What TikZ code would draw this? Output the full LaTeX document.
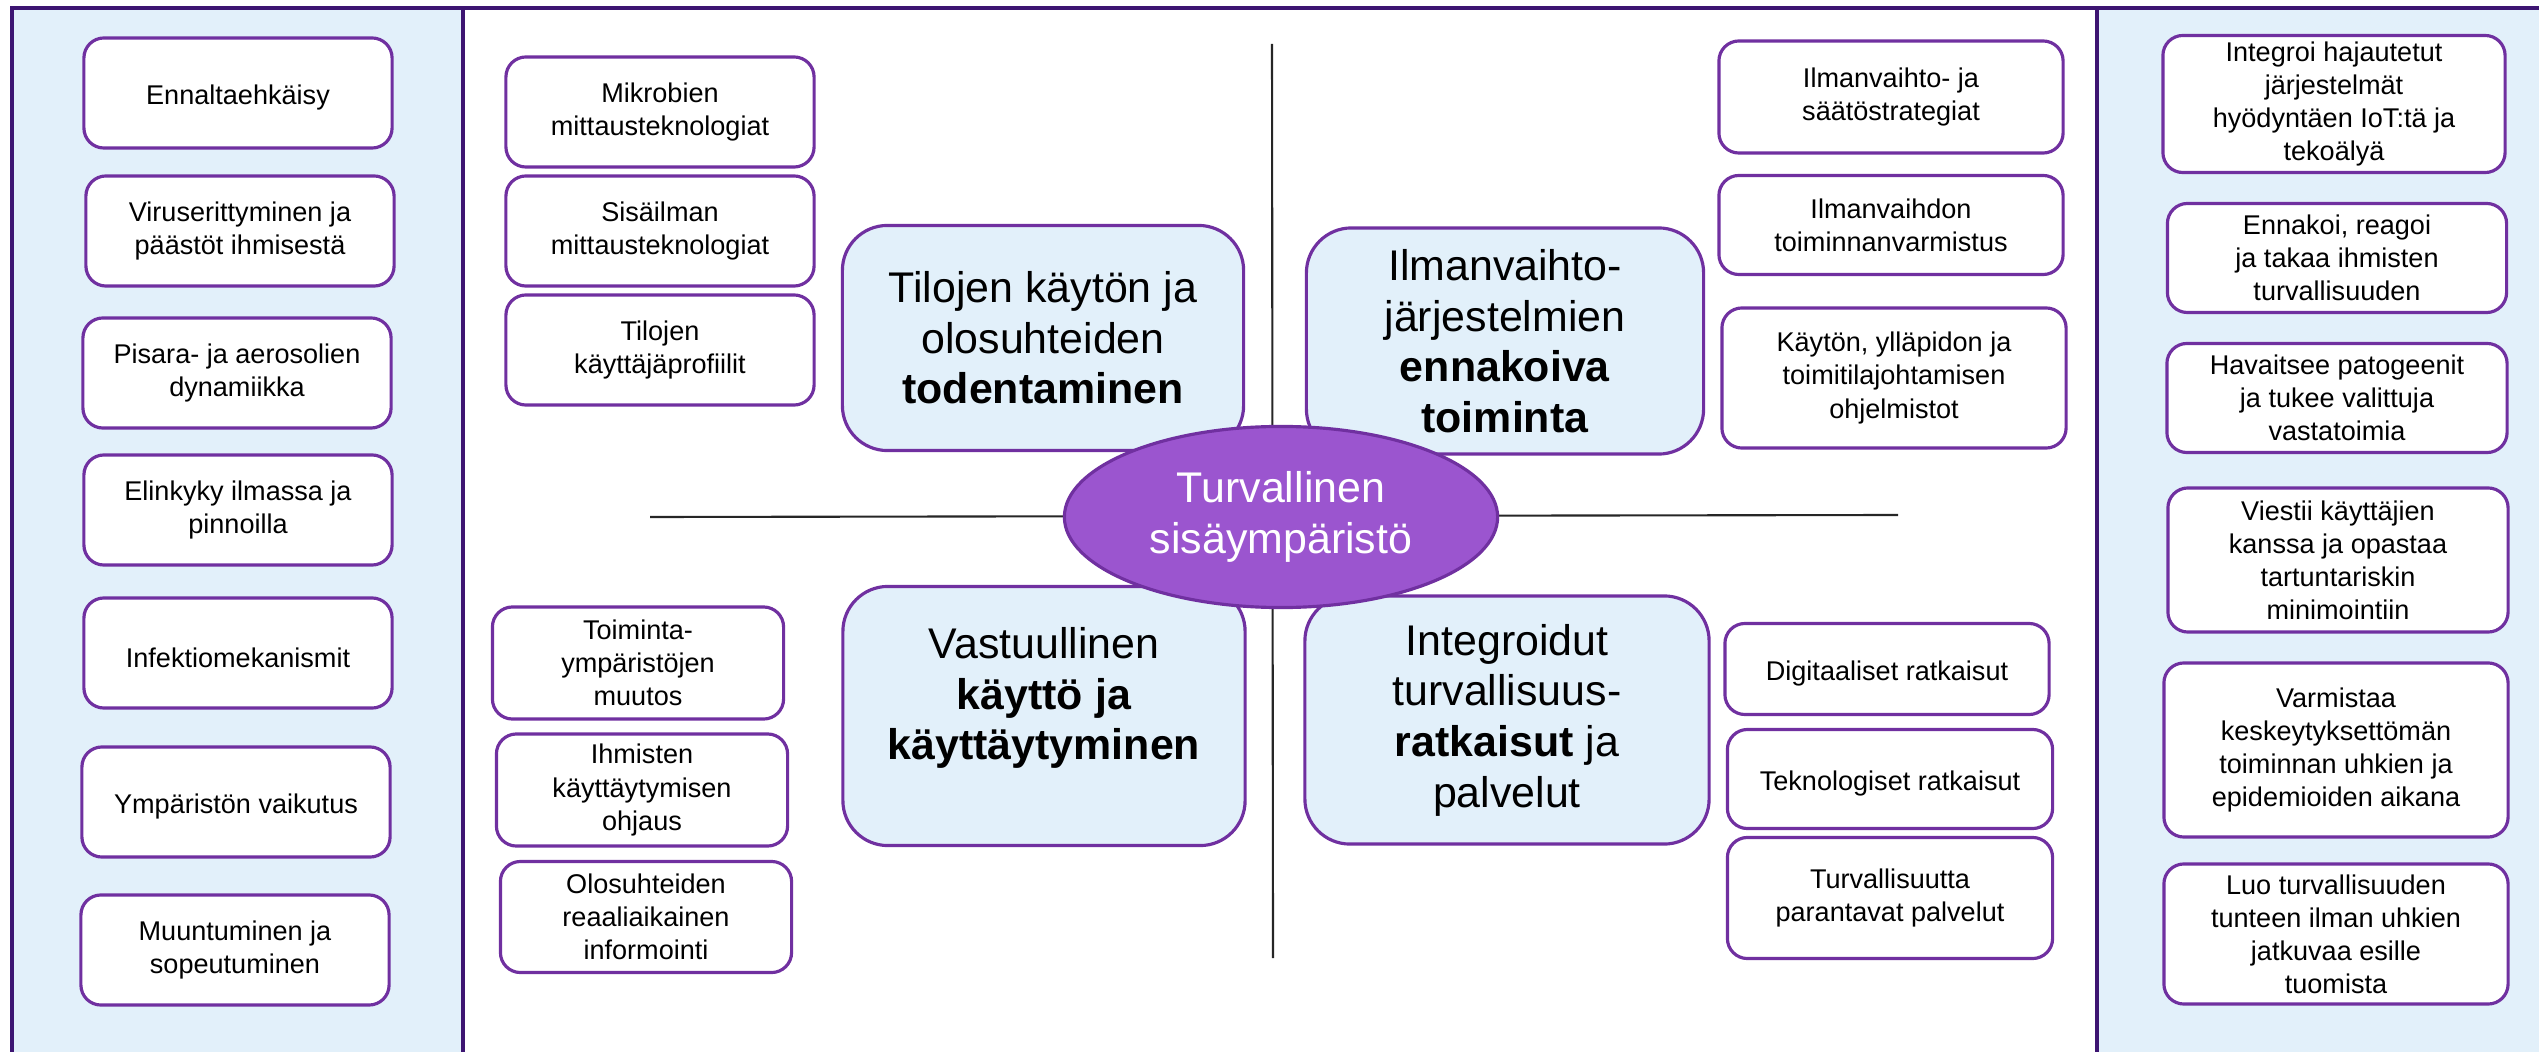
\documentclass[tikz,border=0pt]{standalone}
\usepackage{xcolor}
\usepackage{fontspec}
\setmainfont{Liberation Sans}
\usepackage{tikz}
\usetikzlibrary{shapes.geometric}

\definecolor{panelblue}{HTML}{E2F0FA}
\definecolor{boxpurple}{HTML}{7030A0}
\definecolor{corepurple}{HTML}{9B55CF}
\definecolor{framepurple}{HTML}{3D1572}

\begin{document}
\begin{tikzpicture}[
    x=0.01cm, y=-0.01cm,
    item/.style={rectangle, draw=boxpurple, line width=0.9pt, rounded corners=0.2cm, fill=white, align=center, inner sep=1pt, execute at begin node={\rule{0pt}{8.4pt}}, minimum width=3.08cm, minimum height=1.1cm, font=\fontsize{7.7pt}{9.4pt}\selectfont},
    theme/.style={rectangle, draw=boxpurple, line width=0.9pt, rounded corners=0.45cm, fill=panelblue, align=center, minimum width=4cm, font=\fontsize{12.2pt}{14.4pt}\selectfont},
    core/.style={ellipse, draw=boxpurple, line width=0.9pt, fill=corepurple, text=white, align=center, inner sep=0pt, execute at begin node={\rule{0pt}{12.3pt}}, minimum width=4.33cm, minimum height=1.81cm, font=\fontsize{12.2pt}{14.4pt}\selectfont},
    axis/.style={draw=black!85, line width=0.6pt},
    frame/.style={draw=framepurple, line width=1pt}
]
\useasboundingbox (0,0) rectangle (2539,1052);

% Side panels
\fill[panelblue] (12,8) rectangle (463,1052);
\fill[panelblue] (2097,8) rectangle (2539,1052);
\draw[frame] (12,1052) -- (12,8) -- (2539,8);
\draw[frame] (463,8) -- (463,1052);
\draw[frame] (2097,8) -- (2097,1052);

% Axes
\coordinate (axisN) at (1272,44);
\coordinate (axisS) at (1273,958);
\coordinate (axisW) at (650,517);
\coordinate (axisE) at (1898,515);
\draw[axis] (axisN) -- (axisS);
\draw[axis] (axisW) -- (axisE);

% Left panel
\node[item] (prevent) at (238,93) {Ennaltaehkäisy};
\node[item] (virus) at (240,231) {Viruserittyminen ja\\päästöt ihmisestä};
\node[item] (droplet) at (237,373) {Pisara- ja aerosolien\\dynamiikka};
\node[item] (survival) at (238,510) {Elinkyky ilmassa ja\\pinnoilla};
\node[item] (infection) at (238,653) {Infektiomekanismit};
\node[item] (environment) at (236,802) {Ympäristön vaikutus};
\node[item] (mutation) at (235,950) {Muuntuminen ja\\sopeutuminen};

% Verification
\node[item] (microbes) at (660,112) {Mikrobien\\mittausteknologiat};
\node[item] (indoorair) at (660,231) {Sisäilman\\mittausteknologiat};
\node[item] (profiles) at (660,350) {Tilojen\\käyttäjäprofiilit};
\node[theme, minimum width=4.01cm, minimum height=2.25cm] (verify) at (1043,338) {Tilojen käytön ja\\olosuhteiden\\\textbf{todentaminen}};

% Ventilation
\node[theme, minimum width=3.97cm, minimum height=2.26cm] (ventilation) at (1505,341) {Ilmanvaihto-\\järjestelmien\\\textbf{ennakoiva}\\\textbf{toiminta}};
\node[item, minimum width=3.44cm, minimum height=1.12cm] (strategies) at (1891,97) {Ilmanvaihto- ja\\säätöstrategiat};
\node[item, minimum width=3.44cm, minimum height=0.99cm] (assurance) at (1891,225) {Ilmanvaihdon\\toiminnanvarmistus};
\node[item, minimum width=3.44cm, minimum height=1.4cm] (software) at (1894,378) {Käytön, ylläpidon ja\\toimitilajohtamisen\\ohjelmistot};

% Behaviour
\node[theme, text depth=0.45cm, minimum width=4.02cm, minimum height=2.59cm] (behaviour) at (1044,716) {Vastuullinen\\\textbf{käyttö ja}\\\textbf{käyttäytyminen}};
\node[item, minimum width=2.91cm, minimum height=1.12cm] (change) at (638,663) {Toiminta-\\ympäristöjen\\muutos};
\node[item, minimum width=2.91cm, minimum height=1.12cm] (guidance) at (642,790) {Ihmisten\\käyttäytymisen\\ohjaus};
\node[item, minimum width=2.91cm, minimum height=1.11cm] (realtime) at (646,917) {Olosuhteiden\\reaaliaikainen\\informointi};

% Solutions
\node[theme, minimum width=4.04cm, minimum height=2.48cm] (solutions) at (1507,720) {Integroidut\\turvallisuus-\\\textbf{ratkaisut} ja\\palvelut};
\node[item, minimum width=3.24cm, minimum height=0.91cm] (digital) at (1887,669) {Digitaaliset ratkaisut};
\node[item, minimum width=3.25cm, minimum height=0.99cm] (technology) at (1890,779) {Teknologiset ratkaisut};
\node[item, minimum width=3.25cm, minimum height=1.21cm] (services) at (1890,898) {Turvallisuutta\\parantavat palvelut};

% Centre
\node[core] (centre) at (1281,517) {Turvallinen\\sisäympäristö};

% Right panel
\node[item, minimum width=3.42cm, minimum height=1.37cm] (integrate) at (2334,104) {Integroi hajautetut\\järjestelmät\\hyödyntäen IoT:tä ja\\tekoälyä};
\node[item, minimum width=3.39cm, minimum height=1.09cm] (anticipate) at (2337,258) {Ennakoi, reagoi\\ja takaa ihmisten\\turvallisuuden};
\node[item, minimum width=3.4cm, minimum height=1.09cm] (detect) at (2337,398) {Havaitsee patogeenit\\ja tukee valittuja\\vastatoimia};
\node[item, minimum width=3.4cm, minimum height=1.44cm] (inform) at (2338,560) {Viestii käyttäjien\\kanssa ja opastaa\\tartuntariskin\\minimointiin};
\node[item, minimum width=3.44cm, minimum height=1.74cm] (continuity) at (2336,750) {Varmistaa\\keskeytyksettömän\\toiminnan uhkien ja\\epidemioiden aikana};
\node[item, minimum width=3.44cm, minimum height=1.4cm] (feeling) at (2336,934) {Luo turvallisuuden\\tunteen ilman uhkien\\jatkuvaa esille\\tuomista};

\end{tikzpicture}
\end{document}
